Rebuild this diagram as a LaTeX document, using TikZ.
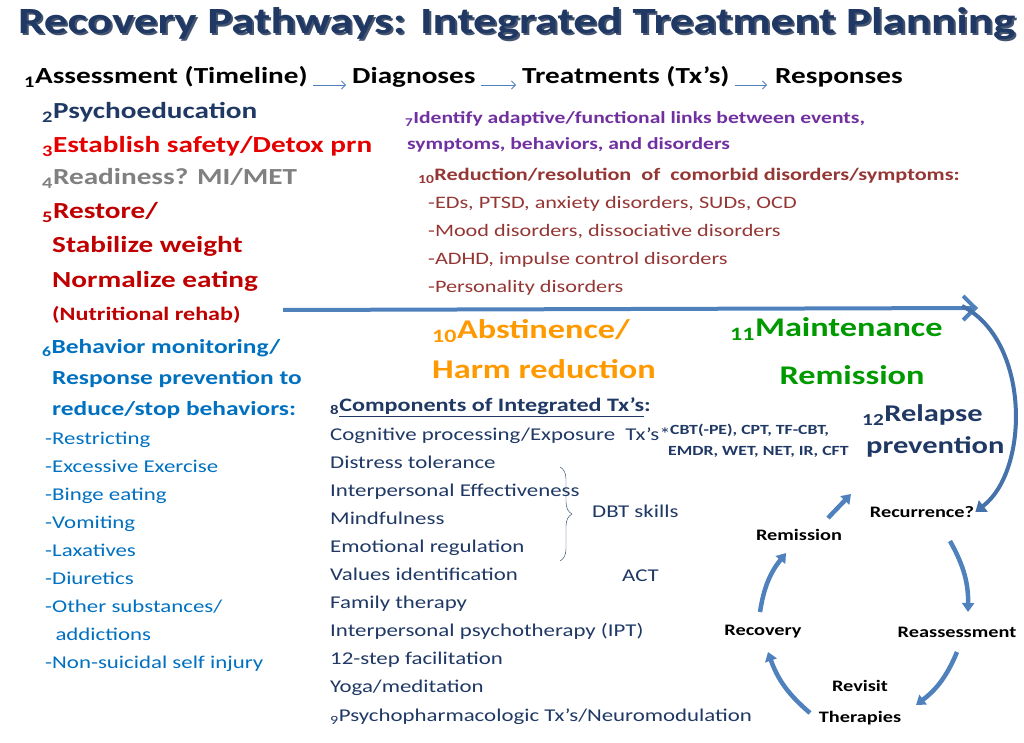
\documentclass[tikz,border=0pt]{standalone}
\usepackage{fontspec}
\setmainfont{Carlito}[FakeStretch=1.27]
\usepackage{xcolor}
\usetikzlibrary{arrows.meta,decorations.pathreplacing}
\definecolor{navy}{HTML}{1F3864}
\definecolor{steel}{HTML}{4F81BD}
\definecolor{purp}{HTML}{7030A0}
\definecolor{brick}{HTML}{943634}
\definecolor{behav}{HTML}{0070C0}
\newcommand{\num}[1]{\textsubscript{#1}}

\begin{document}
\begin{tikzpicture}[x=1pt,y=-1pt,
        txt/.style={anchor=west, inner sep=0pt, text height=0.72em, text depth=0.2em}, % plain line of text
        stepbold/.style={txt, font=\bfseries\fontsize{23}{26}\selectfont},
        listitem/.style={txt, font=\fontsize{18}{20}\selectfont},
        cyclelabel/.style={inner sep=1pt, font=\bfseries\fontsize{16}{18}\selectfont},
        cyclearrow/.style={steel, line width=4.5pt, -{Triangle[length=9pt,width=12pt]}},
        thinarrow/.style={steel, thick, -{Straight Barb[length=4pt]}}
    ]
\useasboundingbox (0,0) rectangle (1024,743);

% Title
\node[txt, navy!60!gray] at (20,33) {\bfseries\fontsize{37}{42}\selectfont Recovery Pathways: Integrated Treatment Planning};
\node[txt, navy] (title) at (18,31) {\bfseries\fontsize{37}{42}\selectfont Recovery Pathways: Integrated Treatment Planning};

% Timeline row
\node[stepbold] (assess) at (24,81) {\num{1}Assessment (Timeline)};
\node[stepbold] (diag) at (352,81) {Diagnoses};
\node[stepbold] (treat) at (522,81) {Treatments (Tx’s)};
\node[stepbold] (resp) at (775,81) {Responses};
\draw[thinarrow] ([xshift=5pt,yshift=-4pt]assess.east) -- ([xshift=-6pt,yshift=-4pt]diag.west);
\draw[thinarrow] ([xshift=5pt,yshift=-4pt]diag.east) -- ([xshift=-6pt,yshift=-4pt]treat.west);
\draw[thinarrow] ([xshift=5pt,yshift=-4pt]treat.east) -- ([xshift=-8pt,yshift=-4pt]resp.west);

% Left column
\node[stepbold, navy] (psy) at (42,116) {\num{2}Psychoeducation};
\node[stepbold, red!90!black] (safe) at (42,150) {\num{3}Establish safety/Detox prn};
\node[stepbold, gray] (ready) at (42,182) {\num{4}Readiness? MI/MET};
\node[stepbold, red!75!black] (restore) at (42,216) {\num{5}Restore/};
\node[stepbold, red!75!black] (stab) at (52,250) {Stabilize weight};
\node[stepbold, red!75!black] (norm) at (52,285) {Normalize eating};
\node[txt, red!75!black, font=\bfseries\fontsize{19}{22}\selectfont] (nutr) at (52,318) {(Nutritional rehab)};
\node[stepbold, behav, font=\bfseries\fontsize{20}{24}\selectfont] (bmon) at (42,351) {\num{6}Behavior monitoring/};
\node[stepbold, behav, font=\bfseries\fontsize{20}{24}\selectfont] (rprev) at (52,382) {Response prevention to};
\node[stepbold, behav, font=\bfseries\fontsize{20}{24}\selectfont] (rstop) at (52,413) {reduce/stop behaviors:};
\foreach \t [count=\i] in {-Restricting,-Excessive Exercise,-Binge eating,-Vomiting,-Laxatives,-Diuretics,-Other substances/,{\ \ addictions},-Non-suicidal self injury}
  \node[listitem, behav] (beh\i) at (45,{414+28*\i}) {\t};

% Middle top
\node[txt, purp, font=\bfseries\fontsize{17}{20}\selectfont] (links) at (405,121) {\num{7}Identify adaptive/functional links between events,};
\node[txt, purp, font=\bfseries\fontsize{17}{20}\selectfont] (links2) at (407,147) {symptoms, behaviors, and disorders};
\node[txt, brick, font=\bfseries\fontsize{17.5}{20}\selectfont] (reduc) at (418,178) {\num{10}Reduction/resolution\ \ of\ \ comorbid disorders/symptoms:};
\foreach \t [count=\i] in {{-EDs, PTSD, anxiety disorders, SUDs, OCD},{-Mood disorders, dissociative disorders},{-ADHD, impulse control disorders},-Personality disorders}
  \node[listitem, brick, font=\fontsize{17.5}{20}\selectfont] (comorb\i) at (428,{178+28*\i}) {\t};

% Main pathway arrow
\coordinate (pathA) at (283,310);
\coordinate (pathB) at (978,308);
\coordinate (loopA) at (962,306);
\draw[steel, line width=4pt, -{Straight Barb[length=12pt,width=24pt,line width=4pt]}] (pathA) -- (pathB);

% Outcomes
\node[txt, orange!80!yellow, font=\bfseries\fontsize{27}{32}\selectfont] (abst) at (432,336) {\num{10}Abstinence/};
\node[txt, orange!80!yellow, font=\bfseries\fontsize{27}{32}\selectfont] (harm) at (432,376) {Harm reduction};
\node[txt, green!60!black, font=\bfseries\fontsize{27}{32}\selectfont] (maint) at (730,334) {\num{11}Maintenance};
\node[green!60!black, font=\bfseries\fontsize{27}{32}\selectfont, inner sep=0pt] (remis) at (852,375) {Remission};
\node[txt, navy, font=\bfseries\fontsize{24}{28}\selectfont] (relapse) at (862,419) {\num{12}Relapse};
\node[txt, navy, font=\bfseries\fontsize{24}{28}\selectfont] (relapse2) at (866,451) {prevention};

% Components list
\node[txt, navy, font=\bfseries\fontsize{19}{22}\selectfont] (comp) at (330,409) {\num{8}\underline{Components of Integrated Tx’s}:};
\foreach \t [count=\i] in {{Cognitive processing/Exposure\ \ Tx’s*},Distress tolerance,Interpersonal Effectiveness,Mindfulness,Emotional regulation,Values identification,Family therapy,Interpersonal psychotherapy (IPT),12-step facilitation,Yoga/meditation}
  \node[listitem, navy] (tx\i) at (330,{410+28*\i}) {\t};
\node[listitem, navy] (pharm) at (330,719) {\num{9}Psychopharmacologic Tx’s/Neuromodulation};
\node[txt, navy, font=\bfseries\fontsize{14}{16}\selectfont] (cbt) at (670,432) {CBT(-PE), CPT, TF-CBT,};
\node[txt, navy, font=\bfseries\fontsize{14}{16}\selectfont] (emdr) at (668,453) {EMDR, WET, NET, IR, CFT};
\draw[navy, thin, decorate, decoration={brace, amplitude=12pt}] (560,467) -- (560,561);
\node[listitem, navy] (dbt) at (592,515) {DBT skills};
\node[listitem, navy] (act) at (622,579) {ACT};

% Relapse cycle
\node[cyclelabel] (recur) at (922,512) {Recurrence?};
\node[cyclelabel] (cremis) at (799,535) {Remission};
\node[cyclelabel] (reass) at (957,632) {Reassessment};
\node[cyclelabel] (recov) at (763,632) {Recovery};
\node[cyclelabel] (revis) at (860,686) {Revisit};
\node[cyclelabel] (ther) at (860,718) {Therapies};
\coordinate (upA) at (828,518);
\coordinate (upB) at (851,494);
\coordinate (rcA) at (950,541);
\coordinate (rcB) at (968,612);
\coordinate (raA) at (957,652);
\coordinate (raB) at (916,705);
\coordinate (thA) at (810,713);
\coordinate (thB) at (768,652);
\coordinate (rvA) at (760,612);
\coordinate (rvB) at (786,553);
\draw[steel!80!navy, line width=4pt, -{Triangle[length=10pt,width=14pt]}] (loopA)
  .. controls (1030,340) and (1030,470) .. (recur.east);
\draw[cyclearrow] (upA) -- (upB);
\draw[cyclearrow] (rcA) to[bend left=15] (rcB);
\draw[cyclearrow] (raA) to[bend left=15] (raB);
\draw[cyclearrow] (thA) to[bend left=15] (thB);
\draw[cyclearrow] (rvA) to[bend left=15] (rvB);
\end{tikzpicture}
\end{document}
